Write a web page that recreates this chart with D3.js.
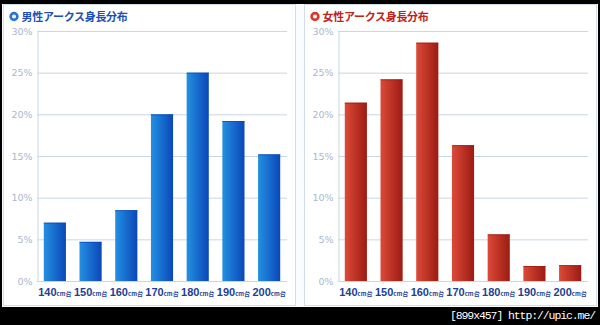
<!DOCTYPE html>
<html><head><meta charset="utf-8">
<script src="https://cdn.jsdelivr.net/npm/d3@7"></script>
<style>
html,body{margin:0;padding:0;background:#000;}
svg{display:block;}
</style></head>
<body>
<svg id="chart" width="600" height="325"></svg>
<script>
// Height classes (shared by both panels)
const heightClasses = ["140", "150", "160", "170", "180", "190", "200"];
const classSuffix = "cm台";
// Share of players in each height class, percent
const maleShare = [7.0, 4.7, 8.5, 20.0, 25.0, 19.2, 15.2];
const femaleShare = [21.4, 24.2, 28.6, 16.3, 5.6, 1.8, 1.9];
const yTicks = [0, 5, 10, 15, 20, 25, 30];
const maleTitle = "男性アークス身長分布";
const femaleTitle = "女性アークス身長分布";
const footer = "[899x457] http://upic.me/";

const svg = d3.select("#chart");
const defs = svg.append("defs");

function grad(id, c0, c1) {
  const g = defs.append("linearGradient").attr("id", id)
    .attr("x1", "0%").attr("x2", "100%").attr("y1", "0%").attr("y2", "0%");
  g.append("stop").attr("offset", "0%").attr("stop-color", c0);
  g.append("stop").attr("offset", "100%").attr("stop-color", c1);
}
grad("blueBar", "#2390e2", "#0b47b8");
grad("redBar", "#dc4a38", "#9c1b12");

// white sheet behind both panels
svg.append("rect").attr("x", 2).attr("y", 4).attr("width", 596).attr("height", 303).attr("fill", "#fbfcfd");

const panels = [
  { x: 3, title: maleTitle, values: maleShare, fill: "url(#blueBar)", titleColor: "#1c4fb3", icon: "#2a74d0", edge: "#0b47b8" },
  { x: 304, title: femaleTitle, values: femaleShare, fill: "url(#redBar)", titleColor: "#c02418", icon: "#d9392a", edge: "#9c1b12" }
];

const y = d3.scaleLinear().domain([0, 30]).range([281, 31]);

panels.forEach(p => {
  const g = svg.append("g").attr("transform", `translate(${p.x},0)`);
  g.append("rect").attr("x", 0.5).attr("y", 4.5).attr("width", 292).attr("height", 301)
    .attr("fill", "#fff").attr("stroke", "#d3dde8");

  // title with bullet
  g.append("circle").attr("cx", 11).attr("cy", 16.5).attr("r", 3.4)
    .attr("fill", "#e8f0fb").attr("stroke", p.icon).attr("stroke-width", 2.6);
  g.append("text").attr("x", 18.5).attr("y", 21).text(p.title)
    .attr("font-family", "Noto Sans CJK JP").attr("font-weight", "bold")
    .attr("font-size", 11).attr("letter-spacing", -0.3).attr("fill", p.titleColor);

  const x0 = 34, x1 = 284;
  const x = d3.scaleBand().domain(heightClasses).range([x0, x1]).paddingInner(0.38).paddingOuter(0.19);

  // gridlines
  g.append("g").selectAll("line").data(yTicks).join("line")
    .attr("x1", x0).attr("x2", x1)
    .attr("y1", d => y(d) + 0.5).attr("y2", d => y(d) + 0.5)
    .attr("stroke", "#c9d6e4").attr("stroke-width", 1);

  // y axis
  const yAxis = d3.axisLeft(y).tickValues(yTicks).tickSize(0).tickPadding(6).tickFormat(d => d + "%");
  const ya = g.append("g").attr("transform", `translate(${x0 + 0.5},0)`).call(yAxis);
  ya.select(".domain").attr("stroke", "#c9d6e4");
  ya.selectAll("text").attr("font-family", "Verdana, DejaVu Sans").attr("font-size", 9.5)
    .attr("fill", "#a8b8cf").attr("x", -5).attr("dy", "0.35em");

  // bars
  g.append("g").selectAll("rect").data(p.values).join("rect")
    .attr("x", (d, i) => x(heightClasses[i]))
    .attr("width", x.bandwidth())
    .attr("y", d => y(d))
    .attr("height", d => y(0) - y(d))
    .attr("fill", p.fill);
  g.append("g").selectAll("line").data(p.values).join("line")
    .attr("x1", (d, i) => x(heightClasses[i])).attr("x2", (d, i) => x(heightClasses[i]) + x.bandwidth())
    .attr("y1", d => y(d) + 0.5).attr("y2", d => y(d) + 0.5)
    .attr("stroke", p.edge).attr("stroke-width", 1).attr("opacity", 0.7);

  // x labels
  const lab = g.append("g").selectAll("text").data(heightClasses).join("text")
    .attr("x", d => x(d) + x.bandwidth() / 2).attr("y", 296)
    .attr("text-anchor", "middle")
    .attr("font-family", "Liberation Sans, Arial").attr("font-weight", "bold")
    .attr("fill", "#1d3f94");
  lab.append("tspan").attr("font-size", 11).text(d => d);
  lab.append("tspan").attr("font-size", 6).attr("font-family", "Noto Sans CJK JP").text(classSuffix);
});

svg.append("text").attr("x", 595).attr("y", 319).attr("text-anchor", "end")
  .attr("font-family", "Liberation Mono, DejaVu Sans Mono").attr("font-size", 11.5).attr("fill", "#fff")
  .attr("letter-spacing", -1.1).text(footer);
</script>
</body></html>
